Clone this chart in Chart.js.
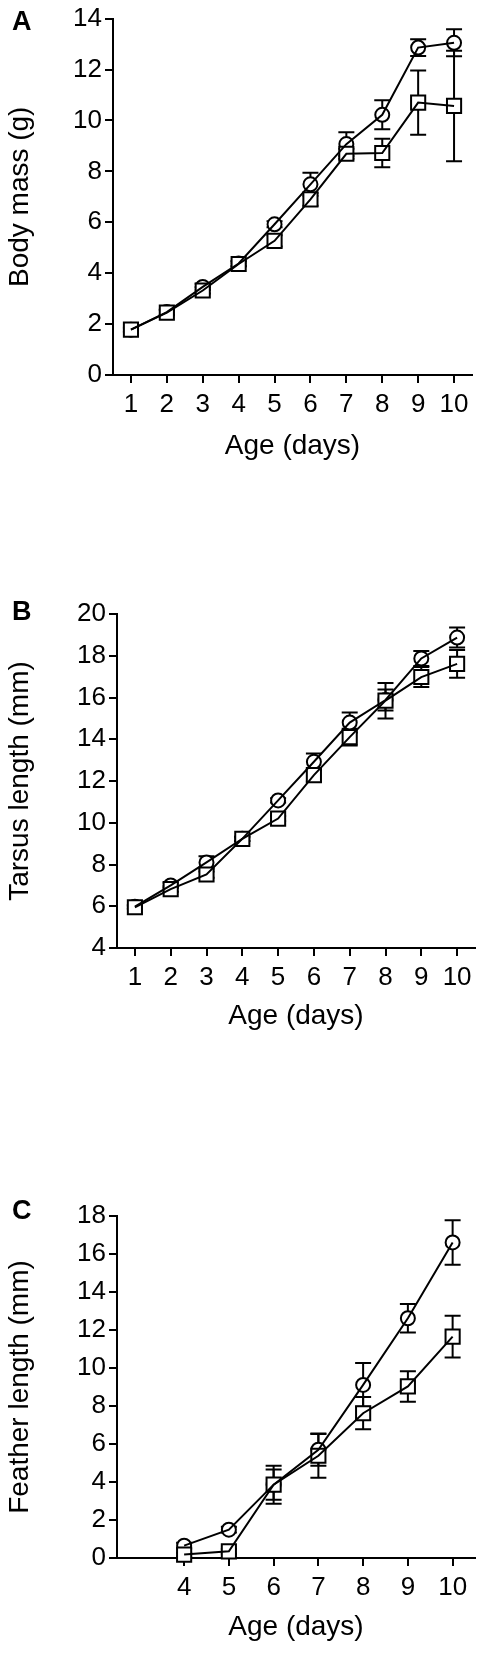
<!DOCTYPE html>
<html>
<head>
<meta charset="utf-8">
<script src="https://cdn.jsdelivr.net/npm/chart.js@4.4.1/dist/chart.umd.min.js"></script>
<style>
  html, body { margin: 0; padding: 0; background: #fff; }
  body { width: 483px; height: 1677px; position: relative; overflow: hidden; }
  .panel { position: absolute; left: 0; width: 483px; }
  .letter { position: absolute; left: 12px; font: bold 27px/27px 'Liberation Sans', Arial, sans-serif; color: #000; }
</style>
</head>
<body>
<div class="panel" style="top:0px;height:480px"><canvas id="chartA" width="483" height="480"></canvas></div>
<div class="panel" style="top:540px;height:510px"><canvas id="chartB" width="483" height="510"></canvas></div>
<div class="panel" style="top:1150px;height:527px"><canvas id="chartC" width="483" height="527"></canvas></div>
<div class="letter" style="top:8px">A</div>
<div class="letter" style="top:598px">B</div>
<div class="letter" style="top:1197px">C</div>
<script>
const FONT = "'Liberation Sans', Arial, sans-serif";

// x categories (age in days)
const daysAB = [1, 2, 3, 4, 5, 6, 7, 8, 9, 10];
const daysC = [4, 5, 6, 7, 8, 9, 10];

// tick labels
const xTicksAB = [1, 2, 3, 4, 5, 6, 7, 8, 9, 10];
const xTicksC = [4, 5, 6, 7, 8, 9, 10];
const yTicksA = [0, 2, 4, 6, 8, 10, 12, 14];
const yTicksB = [4, 6, 8, 10, 12, 14, 16, 18, 20];
const yTicksC = [0, 2, 4, 6, 8, 10, 12, 14, 16, 18];

// A - body mass (g), mean and error half-width
const massCircle = [1.78, 2.47, 3.46, 4.38, 5.92, 7.49, 9.07, 10.22, 12.86, 13.05];
const massCircleErr = [0.08, 0.1, 0.12, 0.1, 0.12, 0.45, 0.47, 0.57, 0.33, 0.53];
const massSquare = [1.78, 2.45, 3.32, 4.36, 5.27, 6.9, 8.69, 8.72, 10.7, 10.57];
const massSquareErr = [0.08, 0.1, 0.12, 0.1, 0.22, 0.25, 0.2, 0.56, 1.26, 2.17];

// B - tarsus length (mm)
const tarsusCircle = [5.98, 7.0, 8.1, 9.23, 11.07, 12.92, 14.8, 15.88, 17.87, 18.87];
const tarsusCircleErr = [0.08, 0.12, 0.3, 0.1, 0.1, 0.4, 0.48, 0.5, 0.36, 0.48];
const tarsusSquare = [5.95, 6.82, 7.52, 9.23, 10.2, 12.28, 14.1, 15.85, 16.98, 17.61];
const tarsusSquareErr = [0.08, 0.12, 0.15, 0.1, 0.12, 0.3, 0.4, 0.85, 0.48, 0.66];

// C - feather length (mm)
const featherCircle = [0.65, 1.49, 3.86, 5.7, 9.11, 12.62, 16.61];
const featherCircleErr = [0.15, 0.15, 1.0, 0.85, 1.15, 0.75, 1.17];
const featherSquare = [0.18, 0.35, 3.86, 5.38, 7.62, 9.03, 11.65];
const featherSquareErr = [0.1, 0.12, 0.8, 1.15, 0.85, 0.8, 1.1];

const LW = 2;

// vertical error bars with caps, drawn under the markers
const errorBars = {
  id: 'errorBars',
  beforeDatasetsDraw(chart) {
    const { ctx, scales: { x, y } } = chart;
    ctx.save();
    ctx.strokeStyle = '#000';
    ctx.lineWidth = LW;
    chart.data.datasets.forEach(ds => {
      if (!ds.errors) return;
      ds.data.forEach((pt, i) => {
        const e = ds.errors[i];
        const px = x.getPixelForValue(pt.x);
        const top = y.getPixelForValue(pt.y + e);
        const bot = y.getPixelForValue(pt.y - e);
        ctx.beginPath();
        ctx.moveTo(px, top); ctx.lineTo(px, bot);
        ctx.moveTo(px - 8, top); ctx.lineTo(px + 8, top);
        ctx.moveTo(px - 8, bot); ctx.lineTo(px + 8, bot);
        ctx.stroke();
      });
    });
    ctx.restore();
  }
};

function axis(extra) {
  return Object.assign({
    type: 'linear',
    border: { display: true, color: '#000', width: LW },
    grid: { display: true, drawOnChartArea: false, drawTicks: true, tickLength: 8, color: '#000', lineWidth: LW },
  }, extra);
}

function makePanel(id, o) {
  const pts = ys => o.days.map((d, i) => ({ x: d, y: ys[i] }));
  const markers = (ys, errs, style, r) => ({
    data: pts(ys), errors: errs, showLine: false,
    pointStyle: style, pointRadius: r, pointHoverRadius: r,
    pointBackgroundColor: '#fff', pointBorderColor: '#000', pointBorderWidth: LW,
    order: 2, clip: false
  });
  const line = ys => ({
    data: pts(ys), showLine: true, pointRadius: 0, pointHoverRadius: 0,
    borderColor: '#000', borderWidth: LW, fill: false, tension: 0,
    order: 1, clip: false
  });

  new Chart(document.getElementById(id), {
    type: 'scatter',
    data: {
      datasets: [
        markers(o.square, o.squareErr, 'rect', 10),
        markers(o.circle, o.circleErr, 'circle', 7),
        line(o.square),
        line(o.circle)
      ]
    },
    options: {
      responsive: false,
      animation: false,
      events: [],
      layout: {
        autoPadding: false,
        padding: { top: o.top, right: 483 - o.right, bottom: o.padBottom, left: 0 }
      },
      plugins: { legend: { display: false }, tooltip: { enabled: false } },
      scales: {
        x: axis({
          min: o.xMin, max: o.xMax,
          afterBuildTicks: s => { s.ticks = o.xTicks.map(v => ({ value: v })); },
          afterFit: s => { s.height = o.xHeight; },
          ticks: { font: { family: FONT, size: 26 }, color: '#000', padding: 6, maxRotation: 0, autoSkip: false, callback: v => String(v) },
          title: { display: true, text: 'Age (days)', color: '#000', font: { family: FONT, size: 28 }, padding: { top: 0, bottom: 0 } }
        }),
        y: axis({
          min: o.yMin, max: o.yMax,
          afterBuildTicks: s => { s.ticks = o.yTicks.map(v => ({ value: v })); },
          afterFit: s => { s.width = o.left; },
          ticks: { font: { family: FONT, size: 26 }, color: '#000', padding: 3, autoSkip: false, callback: v => String(v) },
          title: { display: true, text: o.yTitle, color: '#000', font: { family: FONT, size: 28 }, padding: { top: 3, bottom: 0 } }
        })
      }
    },
    plugins: [errorBars]
  });
}

makePanel('chartA', {
  days: daysAB, circle: massCircle, circleErr: massCircleErr, square: massSquare, squareErr: massSquareErr,
  xTicks: xTicksAB, yTicks: yTicksA, xMin: 0.5, xMax: 10.5, yMin: 0, yMax: 14,
  yTitle: 'Body mass (g)',
  left: 113, right: 472, top: 16, xHeight: 88, padBottom: 17
});

makePanel('chartB', {
  days: daysAB, circle: tarsusCircle, circleErr: tarsusCircleErr, square: tarsusSquare, squareErr: tarsusSquareErr,
  xTicks: xTicksAB, yTicks: yTicksB, xMin: 0.5, xMax: 10.5, yMin: 4, yMax: 20,
  yTitle: 'Tarsus length (mm)',
  left: 117, right: 475, top: 74, xHeight: 85, padBottom: 17
});

makePanel('chartC', {
  days: daysC, circle: featherCircle, circleErr: featherCircleErr, square: featherSquare, squareErr: featherSquareErr,
  xTicks: xTicksC, yTicks: yTicksC, xMin: 2.5, xMax: 10.5, yMin: 0, yMax: 18,
  yTitle: 'Feather length (mm)',
  left: 117, right: 475, top: 66, xHeight: 86, padBottom: 33
});
</script>
</body>
</html>
